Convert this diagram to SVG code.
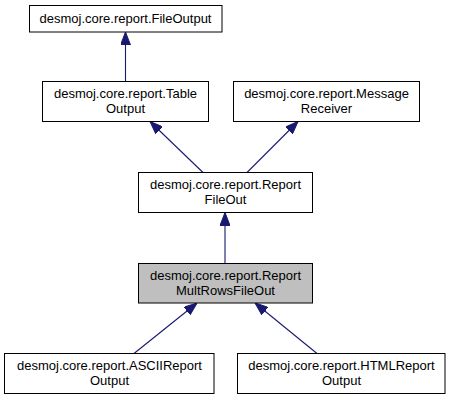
<svg xmlns="http://www.w3.org/2000/svg" width="452" height="400" viewBox="0 0 452 400">
<style>
.node rect{fill:#ffffff;stroke:#000000;stroke-width:1}
.node.cur rect{fill:#bfbfbf}
.node text{font-family:"Liberation Sans",Arial,Helvetica,sans-serif;font-size:13px;fill:#000000;text-anchor:middle}
.edges line{stroke:#191970;stroke-width:1.1;marker-end:url(#arr)}
</style>
<defs>
<marker id="arr" markerUnits="userSpaceOnUse" markerWidth="13" markerHeight="10" refX="13" refY="5" orient="auto">
<path d="M0,0 L13,5 L0,10 z" fill="#191970" stroke="#191970" stroke-width="1"/>
</marker>
</defs>
<rect width="452" height="400" fill="#ffffff"/>
<g class="edges" id="edges">
<line x1="125.5" y1="81.5" x2="125.5" y2="32"/>
<line x1="203" y1="172.5" x2="150" y2="121.5"/>
<line x1="247" y1="172.5" x2="298" y2="121.5"/>
<line x1="225" y1="263.5" x2="225" y2="212.5"/>
<line x1="134" y1="353.5" x2="197" y2="303"/>
<line x1="317" y1="353.5" x2="255" y2="303"/>
</g>
<g class="node" id="FileOutput">
<rect x="29.5" y="5.5" width="192.5" height="26.5"/>
<text x="125.5" y="23">desmoj.core.report.FileOutput</text>
</g>
<g class="node" id="TableOutput">
<rect x="42.5" y="81.5" width="166" height="40"/>
<text x="125.5" y="98">desmoj.core.report.Table</text>
<text x="125.5" y="113">Output</text>
</g>
<g class="node" id="MessageReceiver">
<rect x="233.5" y="81.5" width="186" height="40"/>
<text x="326.5" y="98">desmoj.core.report.Message</text>
<text x="326.5" y="113">Receiver</text>
</g>
<g class="node" id="ReportFileOut">
<rect x="138.5" y="172.5" width="174" height="40"/>
<text x="225.5" y="189">desmoj.core.report.Report</text>
<text x="225.5" y="204">FileOut</text>
</g>
<g class="node cur" id="ReportMultRowsFileOut">
<rect x="138.5" y="263.5" width="174" height="39.5"/>
<text x="225.5" y="280">desmoj.core.report.Report</text>
<text x="225.5" y="295">MultRowsFileOut</text>
</g>
<g class="node" id="ASCIIReportOutput">
<rect x="4.5" y="353.5" width="209.5" height="40"/>
<text x="109.5" y="370">desmoj.core.report.ASCIIReport</text>
<text x="109.5" y="385">Output</text>
</g>
<g class="node" id="HTMLReportOutput">
<rect x="237.5" y="353.5" width="207.5" height="40"/>
<text x="341.5" y="370">desmoj.core.report.HTMLReport</text>
<text x="341.5" y="385">Output</text>
</g>
</svg>
